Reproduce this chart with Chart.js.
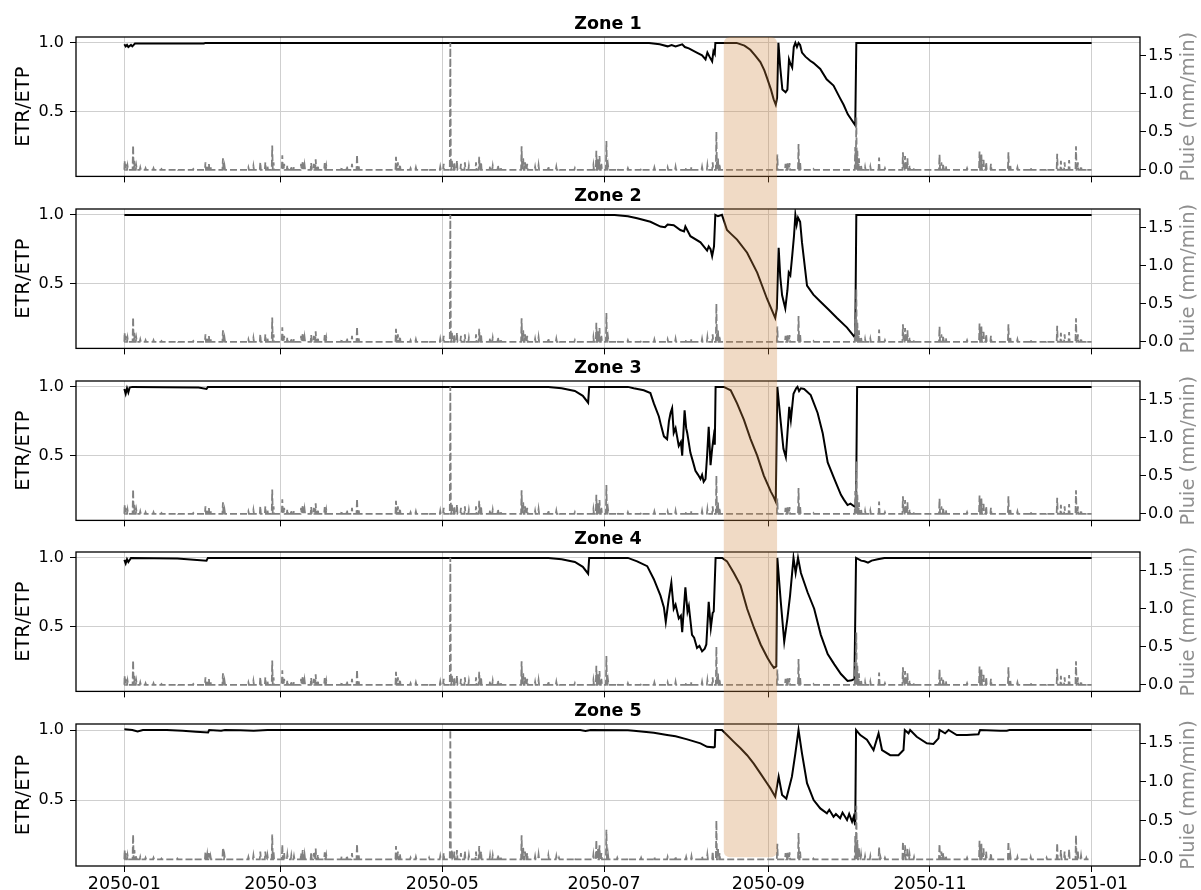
<!DOCTYPE html>
<html>
<head>
<meta charset="utf-8">
<script src="https://cdn.jsdelivr.net/npm/chart.js@4.4.1/dist/chart.umd.min.js"></script>
<style>
  html, body { margin: 0; padding: 0; background: #fff; }
  #wrap { position: relative; width: 1201px; height: 890px; overflow: hidden; }
  #wrap canvas { position: absolute; left: 0; }
</style>
</head>
<body>
<div id="wrap"></div>
<script>
// x axis is in days since 2050-01-01
const tickDays = [0, 59, 120, 181, 243, 304, 365];
const tickLabels = ["2050-01", "2050-03", "2050-05", "2050-07", "2050-09", "2050-11", "2051-01"];
const ratioTicks = [0.5, 1.0];
const rainTicks = [0, 0.5, 1.0, 1.5];
const zoneNames = ["Zone 1", "Zone 2", "Zone 3", "Zone 4", "Zone 5"];

// dry spell highlighted across all zones (about 2050-08-15 to 2050-09-04)
const shadeFrom = 226.2;
const shadeTo = 246.3;

// rain events [day, mm/min], same for every zone
const rainSpikes = [
  [0.1, 0.12], [0.5, 0.08], [1.2, 0.05], [3.3, 0.32], [3.8, 0.12], [4.5, 0.05], [6, 0.03], [8, 0.02],
  [11, 0.02], [14, 0.01], [20, 0.01], [26, 0.01], [30.6, 0.10], [31.3, 0.06], [31.9, 0.08], [32.5, 0.04],
  [37.2, 0.15], [37.8, 0.05], [46.8, 0.03], [48.7, 0.05], [51.3, 0.10], [53.2, 0.10], [54, 0.05],
  [55.8, 0.32], [56.3, 0.10], [59.6, 0.19], [60.3, 0.08], [61.5, 0.06], [63, 0.05], [64, 0.04],
  [66.7, 0.08], [67.3, 0.12], [68, 0.06], [70.5, 0.09], [71.5, 0.08], [72.2, 0.14], [73, 0.06],
  [75.6, 0.09], [76.2, 0.05], [82, 0.04], [84, 0.05], [85.9, 0.08], [87.8, 0.20], [88.4, 0.06],
  [102.5, 0.17], [103.2, 0.10], [104, 0.07], [108, 0.02], [110, 0.03], [115, 0.02], [119.2, 0.04],
  [120.5, 0.08], [123, 1.67], [123.6, 0.12], [124.5, 0.10], [125.5, 0.12], [127, 0.08], [128.5, 0.10],
  [130, 0.05], [132.7, 0.10], [133.9, 0.17], [134.6, 0.10], [138, 0.05], [139, 0.05], [141, 0.06],
  [142, 0.04], [149.9, 0.31], [150.5, 0.15], [151.2, 0.10], [152, 0.08], [155, 0.04], [156.3, 0.06],
  [160, 0.05], [163, 0.04], [164, 0.02], [170, 0.02], [177, 0.06], [178.1, 0.25], [178.7, 0.14],
  [179.3, 0.18], [180, 0.08], [181.9, 0.38], [182.5, 0.06], [186, 0.02], [190, 0.02], [195, 0.02],
  [200, 0.03], [205, 0.03], [208, 0.04], [212, 0.03], [214, 0.04], [218, 0.04], [220, 0.06],
  [222, 0.10], [223.4, 0.50], [224, 0.15], [224.6, 0.08], [246.4, 0.20], [249.5, 0.08], [250.2, 0.10],
  [251, 0.09], [254.4, 0.34], [255, 0.10], [260, 0.01], [275.8, 0.30], [276.2, 0.69], [276.6, 0.25],
  [277.2, 0.15], [278, 0.06], [279.5, 0.04], [281.5, 0.04], [284.8, 0.16], [285.3, 0.03], [287, 0.02],
  [293.8, 0.23], [294.6, 0.18], [295.5, 0.15], [296.3, 0.06], [298, 0.03], [307.6, 0.20], [308.3, 0.10],
  [309, 0.08], [310, 0.05], [318, 0.02], [322.7, 0.24], [323.4, 0.20], [324.2, 0.15], [325.2, 0.10],
  [327, 0.08], [333.6, 0.23], [334.3, 0.06], [337, 0.03], [342, 0.03], [348, 0.02], [352, 0.21],
  [353.4, 0.12], [354.8, 0.10], [356.5, 0.13], [359.1, 0.31], [359.8, 0.10], [361, 0.05], [363, 0.02]
];

// ETR/ETP per zone [day, ratio]
const zone1 = [
  [0, 0.99], [0.5, 0.975], [1, 0.985], [1.5, 0.97], [2.5, 0.985], [3, 0.975], [4, 0.995], [30, 0.995],
  [30.5, 1.0], [198, 1.0], [202, 0.99], [205, 0.975], [206.5, 0.985], [208, 0.975], [210.5, 0.99],
  [211.5, 0.97], [213, 0.96], [216, 0.93], [218, 0.91], [219.3, 0.88], [220, 0.93], [220.8, 0.90],
  [221.8, 0.865], [222.3, 0.94], [222.8, 0.92], [223, 1.0], [231, 1.0], [234, 0.98], [236.2, 0.95],
  [238, 0.91], [240, 0.86], [241.5, 0.80], [242.5, 0.745], [244, 0.66], [245, 0.59], [245.8, 0.55],
  [246.3, 0.6], [246.8, 1.0], [247.5, 0.82], [248.3, 0.66], [249.5, 0.64], [250.2, 0.66], [250.8, 0.88],
  [251.3, 0.85], [252, 0.82], [252.6, 0.97], [253.2, 1.0], [253.8, 0.97], [254.4, 1.0], [255, 0.985],
  [255.7, 0.93], [257, 0.9], [258.8, 0.87], [260, 0.855], [262.6, 0.81], [265, 0.735], [267.6, 0.69],
  [270, 0.6], [271.4, 0.55], [273, 0.48], [275.8, 0.40], [276.2, 1.0], [365, 1.0]
];
const zone2 = [
  [0, 1.0], [185, 1.0], [190, 0.99], [193.5, 0.975], [198.5, 0.95], [202.3, 0.915], [204, 0.91],
  [205, 0.93], [207.3, 0.925], [209.8, 0.89], [211.2, 0.88], [211.7, 0.915], [213.6, 0.845],
  [217.4, 0.80], [219.9, 0.74], [220.5, 0.77], [221.2, 0.75], [221.8, 0.70], [222.5, 0.77], [223, 1.0],
  [224, 0.99], [225.5, 1.0], [226.2, 0.96], [227.4, 0.89], [229, 0.86], [231.2, 0.82], [235, 0.725],
  [238.8, 0.58], [242.5, 0.39], [245.6, 0.25], [246.2, 0.32], [246.9, 0.76], [247.5, 0.55],
  [248.2, 0.415], [249.4, 0.32], [250.2, 0.45], [250.7, 0.58], [251.3, 0.56], [252, 0.70], [252.7, 0.85],
  [253.2, 1.0], [253.7, 0.93], [254.2, 0.98], [255, 0.95], [255.7, 0.80], [257.6, 0.485], [260, 0.42],
  [262.6, 0.37], [265.8, 0.31], [268.9, 0.25], [272.7, 0.18], [275.8, 0.105], [276.2, 1.0], [365, 1.0]
];
const zone3 = [
  [0, 0.985], [0.5, 0.95], [1, 0.99], [1.5, 0.96], [2, 0.995], [3, 1.0], [28, 0.995], [31, 0.985],
  [31.5, 1.0], [160, 1.0], [165, 0.99], [170, 0.97], [173, 0.935], [175, 0.885], [175.4, 1.0], [190, 1.0],
  [192.2, 0.99], [196, 0.975], [198.5, 0.955], [199.8, 0.88], [201.7, 0.785], [202.5, 0.72],
  [203.6, 0.64], [204.8, 0.62], [205.5, 0.75], [206.1, 0.81], [206.7, 0.845], [207.3, 0.665], [208, 0.70],
  [209.2, 0.57], [210, 0.60], [210.5, 0.50], [211.4, 0.83], [212, 0.70], [212.4, 0.665], [213.6, 0.52],
  [214.5, 0.46], [215.5, 0.39], [216.5, 0.36], [217.4, 0.33], [218, 0.36], [218.6, 0.31], [219.3, 0.33],
  [219.9, 0.50], [220.5, 0.71], [221.2, 0.43], [221.8, 0.55], [222.4, 0.64], [222.8, 0.58], [223.1, 1.0],
  [226.2, 1.0], [228.8, 0.975], [231.2, 0.88], [233.8, 0.76], [236.3, 0.62], [238.8, 0.50],
  [241.3, 0.355], [243.9, 0.24], [245, 0.2], [245.8, 0.165], [246.4, 1.0], [247.7, 0.74], [248.7, 0.55],
  [249.6, 0.49], [250.9, 0.855], [251.5, 0.76], [252.5, 0.95], [253.5, 0.99], [254, 1.0], [254.6, 0.97],
  [255.3, 0.99], [256.5, 0.985], [259, 0.94], [261.6, 0.81], [263.5, 0.665], [265.4, 0.45], [267.9, 0.33],
  [270.4, 0.215], [271.5, 0.18], [272.9, 0.14], [274, 0.15], [275.5, 0.13], [276.1, 0.14], [276.5, 1.0],
  [365, 1.0]
];
const zone4 = [
  [0, 0.985], [0.5, 0.96], [1, 0.99], [1.5, 0.97], [2.5, 1.0], [20, 0.995], [31, 0.98], [31.5, 1.0],
  [160, 1.0], [165, 0.99], [170, 0.97], [173, 0.935], [175, 0.885], [175.4, 1.0], [190, 1.0],
  [193.5, 0.975], [197.3, 0.94], [199.8, 0.845], [202.3, 0.725], [203.6, 0.64], [204.3, 0.535],
  [205.4, 0.70], [206.4, 0.82], [207.3, 0.63], [208, 0.66], [209.2, 0.56], [210, 0.58], [210.5, 0.46],
  [211.7, 0.785], [212.5, 0.61], [213, 0.65], [214.2, 0.44], [215, 0.42], [216.1, 0.345], [217, 0.36],
  [218, 0.32], [219, 0.34], [219.6, 0.37], [220.5, 0.68], [221.3, 0.49], [222, 0.6], [222.4, 0.61],
  [223.1, 1.0], [225.6, 1.0], [227.4, 0.975], [230, 0.89], [232.5, 0.80], [235, 0.63], [237.6, 0.49],
  [240.1, 0.37], [242.6, 0.275], [244, 0.23], [245.1, 0.2], [246, 0.21], [246.4, 1.0], [247.7, 0.68],
  [249, 0.39], [250.2, 0.56], [251.2, 0.725], [252.5, 1.0], [253.3, 0.89], [254.2, 1.0], [255.3, 0.89],
  [257.8, 0.75], [260.3, 0.63], [262.8, 0.44], [265.4, 0.30], [267.9, 0.225], [270.4, 0.155],
  [272.9, 0.105], [274.5, 0.11], [275.5, 0.12], [276.1, 1.0], [278, 0.98], [279.3, 0.975], [280.6, 0.965],
  [282, 0.98], [284.3, 0.99], [286.8, 1.0], [365, 1.0]
];
const zone5 = [
  [0, 1.005], [3, 1.0], [5, 0.99], [7, 1.0], [16, 1.0], [22, 0.995], [27, 0.988], [31.6, 0.983], [32, 1.0],
  [36.5, 0.995], [38, 1.0], [43.8, 0.998], [48.8, 0.995], [54, 1.0], [172, 1.0], [174, 0.993], [176, 1.0],
  [190, 0.998], [192.2, 0.995], [199.8, 0.98], [204.8, 0.964], [208, 0.955], [212.4, 0.933],
  [217.4, 0.905], [219.9, 0.88], [222.4, 0.876], [222.8, 0.88], [223, 1.0], [225.5, 1.0], [227.4, 0.964],
  [229.9, 0.917], [232.5, 0.87], [235, 0.82], [237.5, 0.76], [240, 0.69], [242.5, 0.62], [243.8, 0.583],
  [245.6, 0.524], [246.9, 0.667], [248.2, 0.536], [249.8, 0.51], [251.9, 0.667], [253.2, 0.833],
  [254.4, 1.0], [255.7, 0.833], [257.6, 0.62], [260.1, 0.50], [262.6, 0.44], [265.1, 0.405], [266, 0.43],
  [267.6, 0.38], [268.5, 0.40], [270.1, 0.37], [271, 0.41], [272.7, 0.357], [273.5, 0.40], [274.6, 0.345],
  [275.2, 0.38], [275.8, 0.32], [276.1, 1.0], [277.7, 0.964], [280.2, 0.93], [282.7, 0.857],
  [284.6, 0.976], [285.9, 0.857], [289, 0.82], [292.1, 0.82], [294, 0.857], [294.5, 1.0], [295.9, 0.976],
  [296.5, 1.0], [299, 0.952], [302.8, 0.905], [305.3, 0.9], [307.2, 0.94], [307.6, 1.0], [309.7, 0.976],
  [311, 1.0], [314.1, 0.964], [317.9, 0.964], [322.3, 0.97], [322.9, 1.0], [330.5, 0.995], [333, 0.995],
  [334, 1.0], [365, 1.0]
];
const zones = [zone1, zone2, zone3, zone4, zone5];

const FONT = "'DejaVu Sans', sans-serif";
const ZONE_STEP = 171.75;
const PLOT_TOP = 37;
const PLOT_H = 142;
const wrap = document.getElementById("wrap");

// rain comes back to zero between events
function rainPoints() {
  const pts = [{ x: 0, y: 0 }, { x: 365, y: 0 }];
  rainSpikes.forEach(([d, v]) => {
    pts.push({ x: d - 0.2, y: 0 }, { x: d, y: v }, { x: d + 0.2, y: 0 });
  });
  return pts.sort((a, b) => a.x - b.x);
}

const framePlugin = {
  id: "frame",
  afterDraw(chart, args, opts) {
    const { ctx, chartArea } = chart;
    ctx.save();
    ctx.strokeStyle = "#000";
    ctx.lineWidth = 1.3;
    ctx.strokeRect(chartArea.left, chartArea.top, chartArea.width, chartArea.height);
    // zone title
    ctx.fillStyle = "#000";
    ctx.font = "bold 17.5px " + FONT;
    ctx.textAlign = "center";
    ctx.textBaseline = "alphabetic";
    ctx.fillText(opts.title, (chartArea.left + chartArea.right) / 2, chartArea.top - 8);
    // right axis label, reading upwards like the left one
    const y1 = chart.scales.y1;
    ctx.translate(y1.left + 49, (chartArea.top + chartArea.bottom) / 2);
    ctx.rotate(-Math.PI / 2);
    ctx.fillStyle = "#8f8f8f";
    ctx.font = "19.5px " + FONT;
    ctx.textBaseline = "middle";
    ctx.fillText("Pluie (mm/min)", 0, 0);
    ctx.restore();
  }
};

function makeZone(k) {
  const isLast = k === zones.length - 1;
  const top = Math.round(ZONE_STEP * k);
  const height = isLast ? 890 - top : 192;
  const canvas = document.createElement("canvas");
  canvas.width = 1201;
  canvas.height = height;
  canvas.style.top = top + "px";
  wrap.appendChild(canvas);

  return new Chart(canvas.getContext("2d"), {
    type: "line",
    data: {
      datasets: [
        {
          data: rainPoints(),
          yAxisID: "y1",
          borderColor: "#808080",
          borderWidth: 1.8,
          borderDash: [7, 3],
          pointRadius: 0,
          tension: 0
        },
        {
          data: zones[k].map(([x, y]) => ({ x, y })),
          yAxisID: "y",
          borderColor: "#000",
          borderWidth: 2,
          pointRadius: 0,
          tension: 0
        }
      ]
    },
    options: {
      responsive: false,
      animation: false,
      events: [],
      layout: { padding: { top: PLOT_TOP, left: 0, right: 0, bottom: 0 } },
      plugins: {
        legend: { display: false },
        tooltip: { enabled: false },
        frame: { title: zoneNames[k] }
      },
      scales: {
        x: {
          type: "linear",
          min: -18.25,
          max: 383.25,
          afterBuildTicks: (scale) => {
            scale.ticks = tickDays.map((v) => ({ value: v }));
          },
          afterFit: (scale) => {
            scale.height = height - PLOT_TOP - PLOT_H;
          },
          ticks: {
            display: isLast,
            autoSkip: false,
            maxRotation: 0,
            padding: 2,
            color: "#000",
            font: { family: FONT, size: 17.5 },
            callback: (v) => tickLabels[tickDays.indexOf(v)] || ""
          },
          grid: { color: "#cfcfcf", lineWidth: 1, tickColor: "#000", tickLength: 6 },
          border: { display: false }
        },
        y: {
          position: "left",
          min: 0.0286,
          max: 1.0429,
          afterBuildTicks: (scale) => {
            scale.ticks = ratioTicks.map((v) => ({ value: v }));
          },
          afterFit: (scale) => {
            scale.width = 76;
          },
          ticks: {
            padding: 6,
            color: "#000",
            font: { family: FONT, size: 16 },
            callback: (v) => v.toFixed(1)
          },
          grid: { color: "#cfcfcf", lineWidth: 1, tickColor: "#000", tickLength: 6 },
          border: { display: false },
          title: {
            display: true,
            text: "ETR/ETP",
            color: "#000",
            font: { family: FONT, size: 19.5 },
            padding: { top: 12, bottom: 0 }
          }
        },
        y1: {
          position: "right",
          min: -0.0865,
          max: 1.746,
          afterBuildTicks: (scale) => {
            scale.ticks = rainTicks.map((v) => ({ value: v }));
          },
          afterFit: (scale) => {
            scale.width = 61;
          },
          ticks: {
            padding: 2,
            color: "#000",
            font: { family: FONT, size: 16 },
            callback: (v) => v.toFixed(1)
          },
          grid: { drawOnChartArea: false, tickColor: "#000", tickLength: 6 },
          border: { display: false }
        }
      }
    },
    plugins: [framePlugin]
  });
}

const charts = zones.map((z, k) => makeZone(k));

// shaded period drawn over all panels
const overlay = document.createElement("canvas");
overlay.width = 1201;
overlay.height = 890;
overlay.style.top = "0px";
wrap.appendChild(overlay);
const octx = overlay.getContext("2d");
const first = charts[0];
const last = charts[charts.length - 1];
const x0 = first.scales.x.getPixelForValue(shadeFrom);
const x1 = first.scales.x.getPixelForValue(shadeTo);
const yTop = first.canvas.offsetTop + first.chartArea.top;
const yBot = last.canvas.offsetTop + last.scales.y1.getPixelForValue(0) - 2;
octx.fillStyle = "rgba(205, 133, 63, 0.3)";
octx.beginPath();
octx.roundRect(x0, yTop, x1 - x0, yBot - yTop, 6);
octx.fill();
</script>
</body>
</html>
